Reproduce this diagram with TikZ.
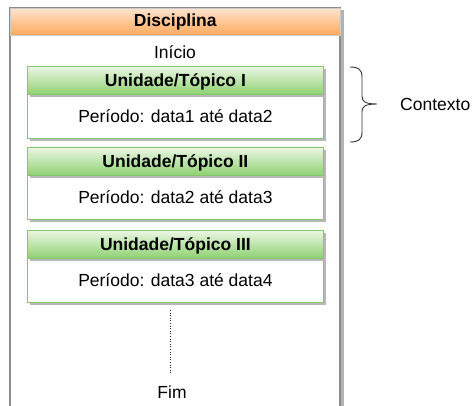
\documentclass[tikz,border=0pt]{standalone}
\usepackage{fontspec}
\setmainfont{Liberation Sans}
\usetikzlibrary{shadows}
\definecolor{frameline}{HTML}{8C8C8C}
\definecolor{orangetop}{HTML}{FFE3CC}
\definecolor{orangemid}{HTML}{FFB672}
\definecolor{orangebot}{HTML}{FFA95E}
\definecolor{greentop}{HTML}{EBF7E4}
\definecolor{greenbot}{HTML}{8ED172}
\definecolor{greenline}{HTML}{86C66B}
\begin{document}
\begin{tikzpicture}[x=1pt, y=-1pt,
  font=\fontsize{17.5}{20}\selectfont,
  boxshadow/.style={general shadow={fill=black!28, shadow xshift=2.5pt, shadow yshift=-2.5pt}},
  unithead/.style={draw=greenline, line width=0.8pt, top color=greentop, bottom color=greenbot,
    minimum width=296pt, minimum height=28pt, inner sep=0pt, anchor=north west,
    text height=12.5pt, text depth=0pt,
    font=\fontsize{17.5}{20}\selectfont\bfseries, boxshadow},
  unitbody/.style={draw=greenline, line width=0.8pt, fill=white,
    minimum width=296pt, minimum height=44pt, inner sep=0pt, anchor=north west,
    text height=12.5pt, text depth=1pt, boxshadow},
  plain/.style={inner sep=0pt}]
\useasboundingbox (0,0) rectangle (472,406);

% outer frame of the course, open at the bottom
\fill[black!30] (340,10) rectangle (343.5,406);
\draw[frameline, line width=1.3pt] (10,406) -- (10,8) -- (340,8) -- (340,406);

% course title bar
\node[draw=black!20, line width=0.6pt, top color=orangetop, middle color=orangemid, bottom color=orangebot,
  minimum width=330pt, minimum height=27pt, inner sep=0pt, anchor=north west,
  font=\fontsize{17.5}{20}\selectfont\bfseries] (disc) at (10,8) {Disciplina};

\node[plain] (inicio) at (175,52) {Início};

% units: body first so the header shadow falls on it
\node[unitbody] (b1) at (27,94) {Período: data1 até data2};
\node[unithead] (h1) at (27,66) {Unidade/Tópico I};

\node[unitbody] (b2) at (27,175) {Período: data2 até data3};
\node[unithead] (h2) at (27,147) {Unidade/Tópico II};

\node[unitbody] (b3) at (27,258) {Período: data3 até data4};
\node[unithead] (h3) at (27,230) {Unidade/Tópico III};

% continuation and end
\coordinate (dtop) at (170,310);
\coordinate (dbot) at (170,373);
\draw[black!85, line width=1pt, dash pattern=on 1pt off 1.6pt] (dtop) -- (dbot);
\node[plain] (fim) at (172,392) {Fim};

% brace grouping the first unit
\coordinate (brtop) at (350,67);
\coordinate (brbot) at (350,142);
\coordinate (brtip) at (377,104);
\draw[black!80, line width=0.9pt]
  (brtop) .. controls (358,67) and (362,69) .. (362,77)
  -- (362,96) .. controls (362,101) and (364,104) .. (brtip)
  .. controls (364,104) and (362,107) .. (362,112)
  -- (362,132) .. controls (362,140) and (358,142) .. (brbot);
\node[plain, anchor=west] (ctx) at (400,104) {Contexto};
\end{tikzpicture}
\end{document}
